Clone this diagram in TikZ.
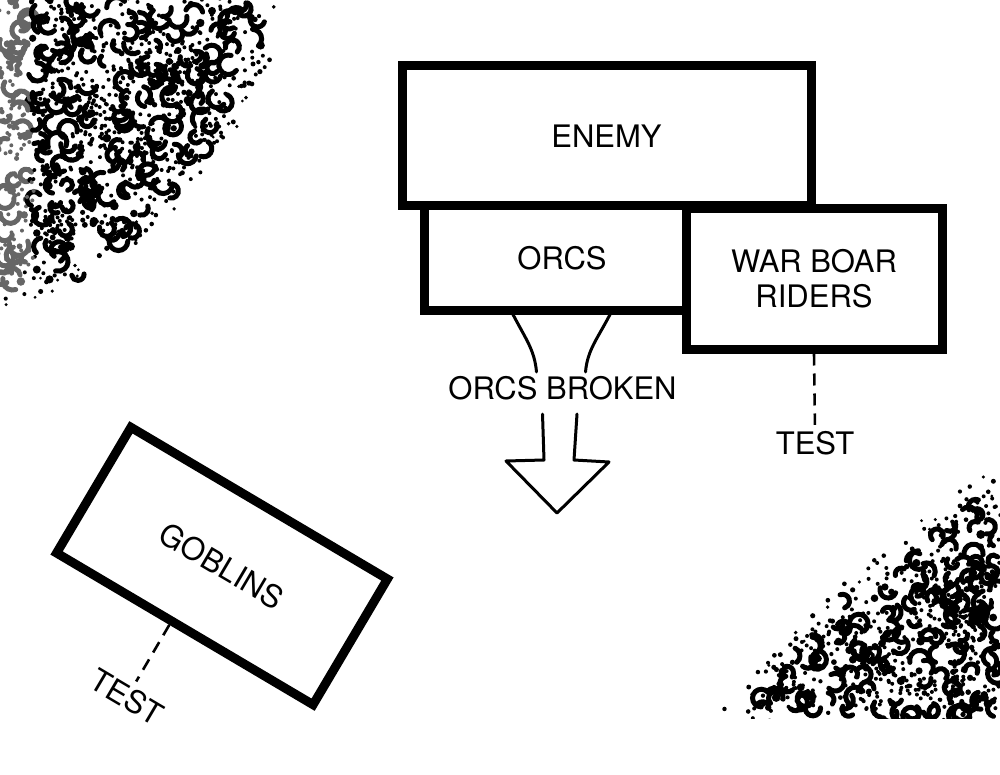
\documentclass[tikz,border=0pt]{standalone}
\usepackage{fontspec}
\setmainfont{TeX Gyre Heros}
\usetikzlibrary{positioning,calc}

\newcommand{\unitfont}{\fontsize{31}{35}\selectfont}

% one random bit of scrub at (#1,#2)
\newcommand{\scrubbit}[3]{%
  \pgfmathsetmacro\blk{rnd}%
  \pgfmathsetmacro\blr{5.5+4.5*rnd}%
  \pgfmathsetmacro\bla{360*rnd}%
  \pgfmathsetmacro\bld{110+150*rnd}%
  \ifdim\blk pt<0.45pt
    \draw[#3, line width=5pt, line cap=round] (#1,#2) ++(\bla:\blr) arc[start angle=\bla, delta angle=\bld, radius=\blr];
  \else\ifdim\blk pt<0.7pt
    \foreach \k in {0,60,...,300}{\fill[#3] (#1,#2) ++(\k+\bla:\blr+2) circle[radius=2];}
  \else
    \fill[#3] (#1,#2) circle[radius=2+2.5*rnd];
  \fi\fi}

\tikzset{
  unit/.style={draw, rectangle, fill=white, line width=9pt, line join=miter, inner sep=0pt, align=center, font=\unitfont},
  note/.style={inner sep=0pt, font=\unitfont},
  testline/.style={line width=2.6pt, dash pattern=on 12pt off 8pt},
  flow/.style={line width=3pt, line join=round, line cap=round}
}

\begin{document}
\begin{tikzpicture}[x=1pt, y=-1pt, >=stealth]
    \useasboundingbox (0,0) rectangle (1000,775);
    \clip (0,0) rectangle (1000,775);
    \pgfmathsetseed{4242}

    % scrub, top left corner
    \foreach \i in {1,...,700}{
        \pgfmathsetmacro\blx{0.5+rnd*285}
        \pgfmathsetmacro\bly{0.5+rnd*315}
        \pgfmathsetmacro\blm{(\blx/270)^1.6+(\bly/300)^1.6-0.12*rnd}
        \ifdim\blm pt<0.9pt
            \ifdim\blx pt<30pt \scrubbit{\blx}{\bly}{black!60}\else \scrubbit{\blx}{\bly}{black}\fi
        \else\ifdim\blm pt<0.97pt
            \fill (\blx,\bly) circle[radius=1.5+1.2*rnd];
        \fi\fi
    }

    % scrub, bottom right corner
    \foreach \i in {1,...,600}{
        \pgfmathsetmacro\blx{0.5+rnd*280}
        \pgfmathsetmacro\bly{0.5+rnd*240}
        \pgfmathsetmacro\blm{(\blx/268)^1.15+(\bly/232)^1.15-0.12*rnd}
        \ifdim\blm pt<0.9pt
            \scrubbit{1000-\blx}{716-\bly}{black}
        \else\ifdim\blm pt<0.97pt
            \fill (1000-\blx,716-\bly) circle[radius=1.5+1.2*rnd];
        \fi\fi
    }
    \fill[white] (700,719) rectangle (1000,775);

    % enemy line
    \node[unit, minimum width=409pt, minimum height=140pt] (enemy) at (606.5,136) {ENEMY};
    \node[unit, minimum width=276pt, minimum height=104pt] (orcs) at (562,258) {ORCS};
    \node[unit, minimum width=256pt, minimum height=140pt] (boar) at (814,279) {WAR BOAR\\RIDERS};

    % orcs flee
    \node[note] (broken) at (562.5,388) {ORCS BROKEN};
    \coordinate (orcsL) at ([xshift=-49pt]orcs.south);
    \coordinate (orcsR) at ([xshift=48pt]orcs.south);
    \coordinate (brokenL) at ([xshift=-26pt, yshift=4pt]broken.north);
    \coordinate (brokenR) at ([xshift=23pt, yshift=4pt]broken.north);
    \draw[flow] (orcsL) .. controls +(13,25) and +(-2,-22) .. (brokenL);
    \draw[flow] (orcsR) .. controls +(-13,25) and +(2,-22) .. (brokenR);

    % big arrow below the label
    \draw[flow] ([xshift=-20pt, yshift=-14pt]broken.south) -- (544,460) -- (506,461) -- (557,513) -- (609,462) -- (574,460) -- (577,414);

    % war boar test
    \node[note] (boartest) at (815,443) {TEST};
    \draw[testline, shorten >=6pt] (boar.south) -- (boartest.north);

    % goblins, turned
    \node[unit, minimum width=298pt, minimum height=146pt, rotate=-30.6] (goblins) at (222,566) {GOBLINS};
    \node[note, rotate=-30.6] (gobtest) at (127,697) {TEST};
    \coordinate (gobfoot) at ($(goblins.south)!0.1!(goblins.south west)$);
    \draw[testline, shorten >=6pt] (gobfoot) -- (gobtest.north);
\end{tikzpicture}
\end{document}
